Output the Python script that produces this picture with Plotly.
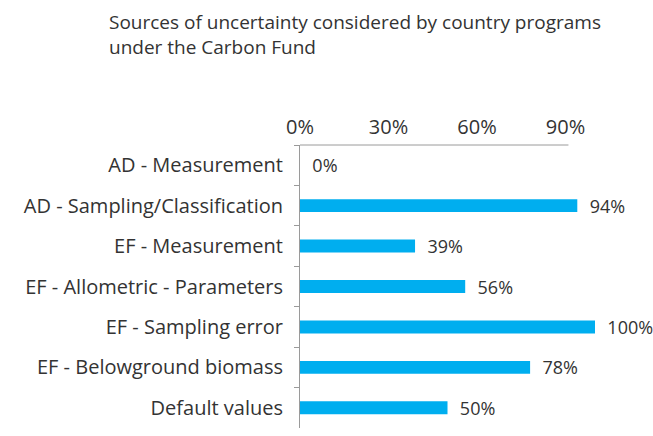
import plotly.graph_objects as go

categories = [
    "AD - Measurement",
    "AD - Sampling/Classification",
    "EF - Measurement",
    "EF - Allometric - Parameters",
    "EF - Sampling error",
    "EF - Belowground biomass",
    "Default values",
]
values = [0, 94, 39, 56, 100, 78, 50]
tick_vals = [0, 30, 60, 90]
tick_text = ["0%", "30%", "60%", "90%"]
title_text = "Sources of uncertainty considered by country programs<br>under the Carbon Fund"

FONT = "Open Sans"
TXT = "#333333"
AX = "#9a9a9a"
FS = 20

W, H = 653, 436
L, R, T, B = 300, 58, 145, 8
PW, PH = W - L - R, H - T - B

fig = go.Figure(
    go.Bar(
        x=values,
        y=categories,
        orientation="h",
        marker=dict(color="#00AEEF", line=dict(width=0)),
        text=[f"{v}%" for v in values],
        texttemplate="  %{text}",
        textposition="outside",
        constraintext="none",
        cliponaxis=False,
        textfont=dict(family=FONT, size=18, color=TXT),
        hoverinfo="skip",
    )
)

fig.update_layout(
    width=W,
    height=H,
    margin=dict(l=L, r=R, t=T, b=B),
    paper_bgcolor="white",
    plot_bgcolor="white",
    bargap=0.68,
    showlegend=False,
    font=dict(family=FONT, size=FS, color=TXT),
    xaxis=dict(
        side="top",
        range=[0, 100],
        tickvals=tick_vals,
        ticktext=tick_text,
        showgrid=False,
        zeroline=False,
        showline=False,
        ticks="",
        automargin=False,
        ticklabelstandoff=6,
        tickfont=dict(family=FONT, size=FS, color=TXT),
        fixedrange=True,
    ),
    yaxis=dict(
        autorange="reversed",
        showgrid=False,
        zeroline=False,
        showline=True,
        linecolor=AX,
        linewidth=1,
        ticks="outside",
        tickson="boundaries",
        ticklen=5,
        tickcolor=AX,
        automargin=False,
        ticklabelstandoff=12,
        tickfont=dict(family=FONT, size=FS, color=TXT),
        fixedrange=True,
    ),
    shapes=[
        dict(
            type="line",
            xref="x",
            yref="paper",
            x0=0,
            x1=91,
            y0=1,
            y1=1,
            line=dict(color=AX, width=1),
        )
    ],
    annotations=[
        dict(
            text=title_text,
            xref="paper",
            yref="paper",
            x=(107 - L) / PW,
            y=1 + (T - 7) / PH,
            xanchor="left",
            yanchor="top",
            align="left",
            showarrow=False,
            font=dict(family=FONT, size=19, color=TXT),
        )
    ],
)

fig.write_html(
    "out.html",
    config={"displayModeBar": False, "staticPlot": True},
    post_script="document.body.style.margin='0';document.body.style.overflow='hidden';",
)
